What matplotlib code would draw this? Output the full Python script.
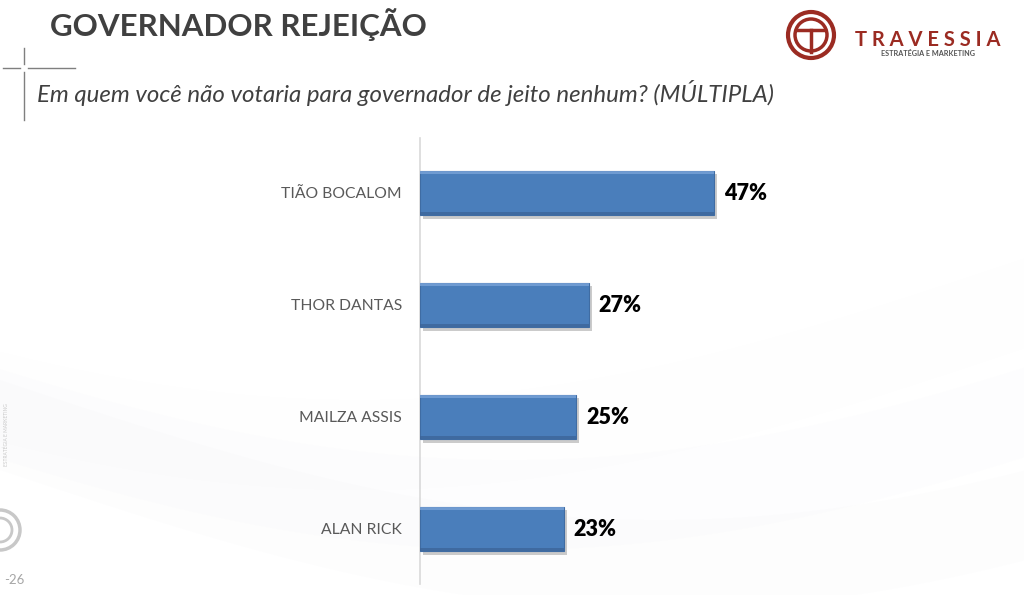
import matplotlib
matplotlib.use("Agg")
import matplotlib.pyplot as plt
import matplotlib.patheffects as pe
from matplotlib.patches import Circle
from matplotlib.lines import Line2D
import numpy as np

# Data
candidates = ["TIÃO BOCALOM", "THOR DANTAS", "MAILZA ASSIS", "ALAN RICK"]
rejection = [47, 27, 25, 23]
value_labels = ["47%", "27%", "25%", "23%"]

title = "GOVERNADOR REJEIÇÃO"
subtitle = "Em quem você não votaria para governador de jeito nenhum? (MÚLTIPLA)"

plt.rcParams['font.family'] = ['Lato', 'DejaVu Sans']

W, H = 1024, 595
fig = plt.figure(figsize=(W / 100, H / 100), dpi=100)
fig.patch.set_facecolor('white')

# soft background swoosh
bg = fig.add_axes([0, 0, 1, 1], zorder=-5)
bg.set_xlim(0, W)
bg.set_ylim(H, 0)
bg.axis('off')
xs = np.linspace(0, W, 300)
for k, a in enumerate([0.018, 0.014, 0.012]):
    ys = 380 + 140 * np.sin((xs + 150 * k) / 420) - 60 * k
    bg.fill_between(xs, ys, ys + 90, color='#b8bcc4', alpha=a, lw=0)

# title & subtitle
fig.text(50 / W, 1 - 25 / H, title, fontsize=22.5, fontweight='bold',
         color='#404040', ha='left', va='center')
fig.text(37 / W, 1 - 93 / H, subtitle, fontsize=17.3, style='italic',
         color='#404040', ha='left', va='center')

# decorative cross lines
bg.add_line(Line2D([3, 20], [68, 68], color='#7f7f7f', lw=1))
bg.add_line(Line2D([28, 75], [68, 68], color='#7f7f7f', lw=1))
bg.add_line(Line2D([24, 24], [48, 64], color='#7f7f7f', lw=1))
bg.add_line(Line2D([24, 24], [72, 120], color='#7f7f7f', lw=1))

# logo top-right
red = '#9b2b22'
bg.add_patch(Circle((811, 35), 23, fill=False, ec=red, lw=3))
bg.add_patch(Circle((811, 35), 16, fill=False, ec=red, lw=2.5))
bg.add_line(Line2D([797, 825], [30, 30], color=red, lw=2.5))
bg.add_line(Line2D([811, 811], [30, 52], color=red, lw=2.5))
fig.text(928 / W, 1 - 40 / H, "T R A V E S S I A", fontsize=14.5,
         fontweight='bold', color=red, ha='center', va='center')
fig.text(928 / W, 1 - 54 / H, "ESTRATÉGIA E MARKETING", fontsize=5.2,
         fontweight='bold', color='#555555', ha='center', va='center')

# faint logo bottom-left
bg.add_patch(Circle((0, 530), 20, fill=False, ec='#c8c8c8', lw=2.5))
bg.add_patch(Circle((0, 530), 12, fill=False, ec='#c8c8c8', lw=2))
fig.text(4 / W, 1 - 580 / H, "-26", fontsize=9.5, color='#a6a6a6',
         ha='left', va='center')
fig.text(6 / W, 1 - 435 / H, "ESTRATÉGIA E MARKETING", fontsize=3.5,
         color='#c8c8c8', rotation=90, ha='center', va='center')

# chart axes
left, right = 420, 1020
top, bottom = 138, 584
ax = fig.add_axes([left / W, 1 - bottom / H, (right - left) / W, (bottom - top) / H])
ax.patch.set_alpha(0)
y = np.arange(len(candidates))
px_per_unit = 112
ax.set_ylim(3 + (bottom - 529) / px_per_unit, -(193 - top) / px_per_unit)
ax.set_xlim(0, (right - left) / 6.25)

bar_h = 0.40
bars = ax.barh(y, rejection, height=bar_h, color='#4a7ebb', edgecolor='#3f6ca3',
               linewidth=0.8, zorder=3)
for b in bars:
    b.set_path_effects([pe.SimplePatchShadow(offset=(2, -2.5), shadow_rgbFace='#7f7f7f',
                                             alpha=0.4), pe.Normal()])
# bevel highlights
ax.barh(y - bar_h / 2 + 0.018, rejection, height=0.03, color='#79a3d8',
        linewidth=0, zorder=4, alpha=0.8)
ax.barh(y + bar_h / 2 - 0.015, rejection, height=0.025, color='#3b6295',
        linewidth=0, zorder=4, alpha=0.7)

for yi, v, lab in zip(y, rejection, value_labels):
    ax.text(v + 1.6, yi, lab, fontsize=15.5, fontweight='heavy', color='black',
            ha='left', va='center')

ax.set_yticks(y)
ax.set_yticklabels(candidates, fontsize=11.3, color='#595959')
ax.tick_params(axis='y', length=0, pad=13)
ax.set_xticks([])
for s in ['top', 'right', 'bottom']:
    ax.spines[s].set_visible(False)
ax.spines['left'].set_color('#d9d9d9')
ax.spines['left'].set_linewidth(1.2)

fig.savefig("out.png", dpi=100)
